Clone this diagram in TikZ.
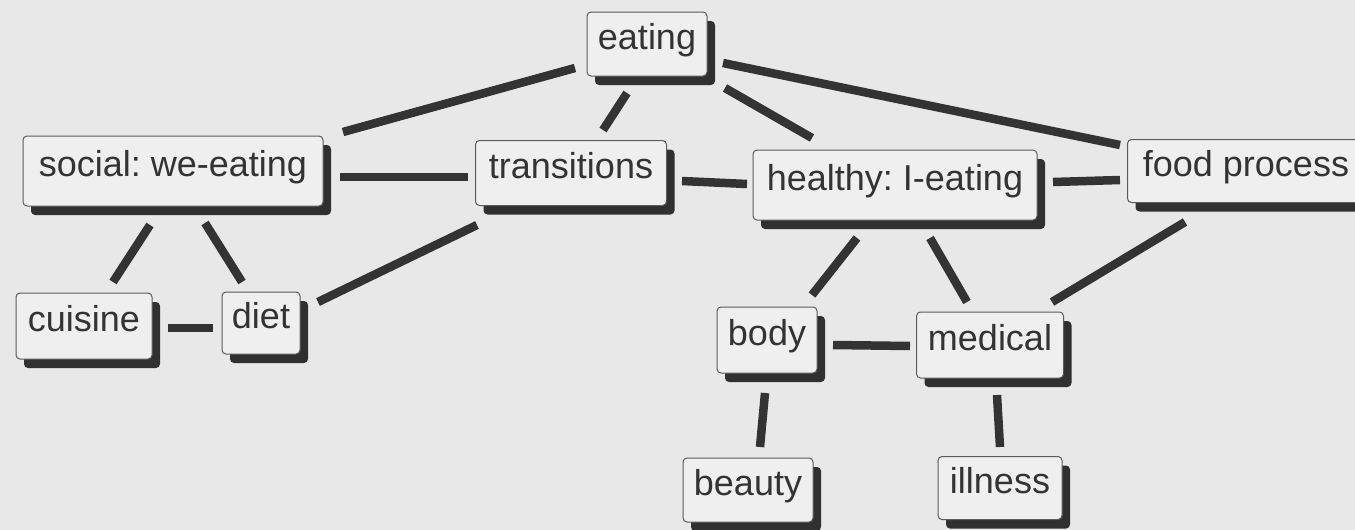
\documentclass[tikz,border=0pt]{standalone}
\usepackage{fontspec}
\setmainfont{Liberation Sans}
\frenchspacing
\usetikzlibrary{shadows,calc}
\definecolor{bgc}{HTML}{E8E8E8}
\definecolor{boxc}{HTML}{EFEFEF}
\definecolor{edgec}{HTML}{5A5A5A}
\definecolor{shadc}{HTML}{303030}
\definecolor{linec}{HTML}{333333}
\definecolor{textc}{HTML}{333333}
\tikzset{
  box/.style={draw=edgec, line width=1pt, fill=boxc, rounded corners=4pt,
    inner sep=0pt, text=textc, font=\fontsize{36}{40}\selectfont,
    text height=20pt, text depth=10pt,
    drop shadow={shadow xshift=8pt, shadow yshift=-9pt, fill=shadc, opacity=1}},
  conn/.style={draw=linec, line width=8.5pt}
}
\begin{document}
\begin{tikzpicture}[x=1pt,y=-1pt]
\useasboundingbox (0,0) rectangle (1355,530);
\fill[bgc] (0,0) rectangle (1355,530);
\clip (0,0) rectangle (1355,530);
% nodes
\node[box, minimum width=120pt, minimum height=64pt] (eating) at (647,44) {eating};
\node[box, minimum width=300pt, minimum height=70pt] (social) at (173,171) {social: we-eating};
\node[box, minimum width=191pt, minimum height=65pt] (trans) at (571,173) {transitions};
\node[box, minimum width=284pt, minimum height=70pt] (healthy) at (895,185) {healthy: I-eating};
\node[box, minimum width=237pt, minimum height=63pt] (food) at (1246,171) {food process};
\node[box, minimum width=136pt, minimum height=66pt] (cuisine) at (84,326) {cuisine};
\node[box, minimum width=78pt, minimum height=62pt] (diet) at (261,323) {diet};
\node[box, minimum width=100pt, minimum height=66pt] (body) at (767,340) {body};
\node[box, minimum width=147pt, minimum height=66pt] (medical) at (990,345) {medical};
\node[box, minimum width=130pt, minimum height=64pt] (beauty) at (748,490) {beauty};
\node[box, minimum width=124pt, minimum height=63pt] (illness) at (1000,488) {illness};
% connectors
\draw[conn] ($(eating)+(-72,24)$) -- ($(social)+(170,-39)$);
\draw[conn] ($(eating)+(-20,49)$) -- ($(trans)+(32,-43)$);
\draw[conn] ($(eating)+(78,44)$) -- ($(healthy)+(-83,-47)$);
\draw[conn] ($(eating)+(76,19)$) -- ($(food)+(-126,-26)$);
\draw[conn] ($(social)+(167,6)$) -- ($(trans)+(-103,4)$);
\draw[conn] ($(trans)+(111,8)$) -- ($(healthy)+(-148,-1)$);
\draw[conn] ($(healthy)+(158,-3)$) -- ($(food)+(-126,9)$);
\draw[conn] ($(social)+(-23,54)$) -- ($(cuisine)+(29,-44)$);
\draw[conn] ($(social)+(32,52)$) -- ($(diet)+(-19,-41)$);
\draw[conn] ($(cuisine)+(84,2)$) -- ($(diet)+(-48,5)$);
\draw[conn] ($(diet)+(57,-21)$) -- ($(trans)+(-94,52)$);
\draw[conn] ($(healthy)+(-38,53)$) -- ($(body)+(45,-45)$);
\draw[conn] ($(healthy)+(35,53)$) -- ($(medical)+(-23,-43)$);
\draw[conn] ($(food)+(-61,51)$) -- ($(medical)+(62,-43)$);
\draw[conn] ($(body)+(66,5)$) -- ($(medical)+(-80,1)$);
\draw[conn] ($(body)+(-2,53)$) -- ($(beauty)+(12,-43)$);
\draw[conn] ($(medical)+(7,50)$) -- ($(illness)+(0,-41)$);
\end{tikzpicture}
\end{document}
